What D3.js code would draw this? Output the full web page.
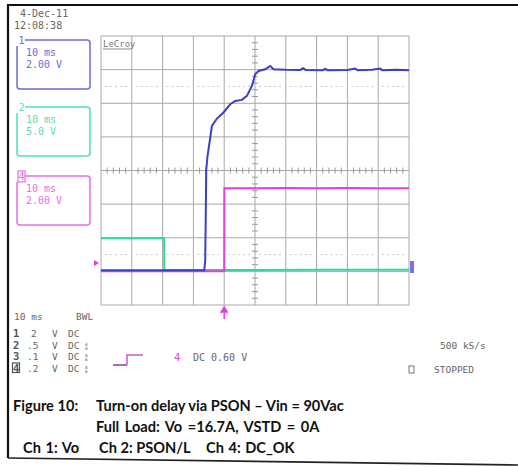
<!DOCTYPE html>
<html><head><meta charset="utf-8">
<script src="https://cdn.jsdelivr.net/npm/d3@7"></script>
<style>body{margin:0;background:#fff}svg{display:block}</style>
</head><body>
<svg id="c" width="518" height="467"></svg>
<script>
// ---- data (time in ms relative to trigger, volts) ----
const ch1Time = [-40,-6.49,-6.17,-6.0,-5.84,-5.42,-4.77,-3.99,-2.37,-0.23,1.95,3.57,5.75,7.37,8.99,10.06,11.14,13.31,14.94,16.0,20,24.7,25.6,26.5,32.0,32.8,33.6,40,42.5,43.3,48,50.6,51.4,56,60];
const ch1Volt = [0,0,0.54,3.04,5.95,6.80,7.60,8.59,9.03,9.39,9.88,10.08,10.14,10.38,10.97,11.67,11.86,11.96,12.16,11.96,11.93,11.92,12.02,11.92,11.9,11.99,11.9,11.92,12.01,11.9,11.93,12.0,11.9,11.93,11.9];
const ch2Time = [-40,-19.5,-19.45,-6.5,-6.0,10,30,45,60];
const ch2Volt = [4.76,4.76,0,0,0.04,0.04,0.08,0.1,0.1];
const ch4Time = [-40,0,0.05,10,20,30,40,50,60];
const ch4Volt = [-0.05,-0.05,4.88,4.88,4.9,4.88,4.9,4.88,4.88];
const chNames = ["1","2","4"];
const chTimeDiv = ["10 ms","10 ms","10 ms"];
const chVoltDiv = ["2.00 V","5.0 V","2.00 V"];
const chScale = [2,5,2];
const rowChan = ["1","2","3","4"];
const rowScale = ["2",".5",".1",".2"];
const captionLines = ["Turn-on delay via PSON \u2013 Vin = 90Vac","Full Load: Vo =16.7A, VSTD = 0A"];
const captionChans = ["Ch 1: Vo","Ch 2: PSON/L","Ch 4: DC_OK"];

const svg = d3.select("#c");
const mono = "DejaVu Sans Mono, monospace";
const gray = "#666";

// frame
svg.append("path").attr("d","M8,458 L8,5 L518,5").attr("fill","none").attr("stroke","#111").attr("stroke-width",2.2);
svg.append("line").attr("x1",8).attr("y1",458).attr("x2",518).attr("y2",465).attr("stroke","#222").attr("stroke-width",1.6);

// scales
const x = d3.scaleLinear().domain([-40,60]).range([101,409]);
const yDiv = d3.scaleLinear().domain([-4,4]).range([305,36]);
const ground = -2.97;
const yCh = s => v => yDiv(v/s + ground);

// grid
const g = svg.append("g");
d3.range(-40,61,10).forEach(t=>{
  g.append("line").attr("x1",x(t)).attr("x2",x(t)).attr("y1",yDiv(-4)).attr("y2",yDiv(4)).attr("stroke","#a8a8a8").attr("stroke-width",1);
});
d3.range(-4,5,1).forEach(d=>{
  g.append("line").attr("x1",x(-40)).attr("x2",x(60)).attr("y1",yDiv(d)).attr("y2",yDiv(d)).attr("stroke","#a8a8a8").attr("stroke-width",1);
});
// dotted quarter lines
[2.5,-2.5].forEach(d=>{
  d3.range(-40,60,10).forEach(t=>{
    g.append("line").attr("x1",x(t)+4).attr("x2",x(t+10)-4).attr("y1",yDiv(d)).attr("y2",yDiv(d))
      .attr("stroke","#c8c8c8").attr("stroke-width",1).attr("stroke-dasharray","2,3");
  });
});
// center ticks
d3.range(-40,60.01,2).forEach(t=>{
  if (t%10!==0) g.append("line").attr("x1",x(t)).attr("x2",x(t)).attr("y1",yDiv(0)-3).attr("y2",yDiv(0)+3).attr("stroke","#999");
});
d3.range(-4,4.01,0.2).forEach(d=>{
  if (Math.abs(d-Math.round(d))>0.01) g.append("line").attr("x1",x(10)-3).attr("x2",x(10)+3).attr("y1",yDiv(d)).attr("y2",yDiv(d)).attr("stroke","#999");
});
g.append("text").attr("x",103).attr("y",47).attr("font-family",mono).attr("font-size",9).attr("fill","#777").text("LeCroy");
g.append("line").attr("x1",103).attr("x2",131).attr("y1",49).attr("y2",49).attr("stroke","#888");

// traces
const mk = (times, volts, s) => d3.line().x((d,i)=>x(times[i])).y((d,i)=>yCh(s)(volts[i]));
svg.append("path").attr("d",mk(ch2Time,ch2Volt,5)(ch2Time)).attr("fill","none").attr("stroke","#2ed89c").attr("stroke-width",2);
svg.append("path").attr("d",mk(ch4Time,ch4Volt,2)(ch4Time)).attr("fill","none").attr("stroke","#e23ee0").attr("stroke-width",2);
svg.append("path").attr("d",mk(ch1Time,ch1Volt,2)(ch1Time)).attr("fill","none").attr("stroke","#3d3dcc").attr("stroke-width",2);

// trigger markers
svg.append("path").attr("d",`M94,${yDiv(-2.75)-3} L99,${yDiv(-2.75)} L94,${yDiv(-2.75)+3} Z`).attr("fill","#e040e0");
svg.append("path").attr("d",`M${x(0)},307 L${x(0)-3},312 L${x(0)+3},312 Z M${x(0)},311 L${x(0)},319`).attr("fill","#e040e0").attr("stroke","#e040e0").attr("stroke-width",1.5);
svg.append("rect").attr("x",410).attr("y",261).attr("width",4).attr("height",12).attr("fill","#8a6ae6");

// channel boxes
const boxCol = ["#6c6cd6","#4fe0bc","#ea6ee2"];
const boxTop = [40,107,176];
chNames.forEach((n,i)=>{
  const y0 = boxTop[i];
  svg.append("rect").attr("x",17).attr("y",y0).attr("width",73).attr("height",49).attr("rx",3)
    .attr("fill","none").attr("stroke",boxCol[i]).attr("stroke-width",1.5);
  svg.append("rect").attr("x",16).attr("y",y0-5).attr("width",9).attr("height",11).attr("fill","#fff");
  if (n==="4") {
    svg.append("rect").attr("x",18).attr("y",y0-5).attr("width",7).attr("height",11).attr("fill","none").attr("stroke",boxCol[i]).attr("stroke-width",1.2);
  }
  svg.append("text").attr("x",18.5).attr("y",y0+4).attr("font-family",mono).attr("font-size",10).attr("fill",boxCol[i]).text(n);
  svg.append("text").attr("x",26).attr("y",y0+16).attr("font-family",mono).attr("font-size",10).attr("fill",boxCol[i]).text(chTimeDiv[i]);
  svg.append("text").attr("x",26).attr("y",y0+28).attr("font-family",mono).attr("font-size",10).attr("fill",boxCol[i]).text(chVoltDiv[i]);
});

// timestamp
svg.append("text").attr("x",20).attr("y",17).attr("font-family",mono).attr("font-size",10).attr("fill",gray).text("4-Dec-11");
svg.append("text").attr("x",14).attr("y",29).attr("font-family",mono).attr("font-size",10).attr("fill",gray).text("12:08:38");

// bottom info
const t = (xx,yy,s,col,sz,w)=>svg.append("text").attr("x",xx).attr("y",yy).attr("font-family",mono).attr("font-size",sz||9.5).attr("fill",col||gray).attr("font-weight",w||"normal").text(s);
t(14,320,"10 ms"); t(76,320,"BWL");
rowChan.forEach((c,i)=>{
  const yy = 337 + i*11.5;
  t(13,yy,c,"#555",10.5,"bold");
  if (c==="4") svg.append("rect").attr("x",12.5).attr("y",yy-8.5).attr("width",7).attr("height",9.5).attr("fill","none").attr("stroke","#555").attr("stroke-width",1.2);
  t(rowScale[i].length>1?27:31,yy,rowScale[i]);
  t(52,yy,"V"); t(68,yy,"DC");
  if (i>0) { t(85,yy-3,"A",gray,4.5); t(85,yy+1,"A",gray,4.5); }
});
svg.append("path").attr("d","M113,365 L127,365").attr("stroke","#8a3c9e").attr("stroke-width",1.5).attr("fill","none");
svg.append("path").attr("d","M127,365 L127,355 L143,355").attr("stroke","#c858c8").attr("stroke-width",1.5).attr("fill","none");
t(174,361,"4","#e040e0",10.5);
t(193,361,"DC 0.60 V","#666",10);
t(440,349,"500 kS/s","#666",9.5);
svg.append("rect").attr("x",409).attr("y",366).attr("width",5).attr("height",7).attr("fill","none").attr("stroke","#777");
t(434,373,"STOPPED","#666",9.5);

// caption
const cap = (xx,yy,s,ws)=>svg.append("text").attr("x",xx).attr("y",yy).attr("font-family","Lato, Open Sans, sans-serif").attr("font-weight","bold").attr("font-size",14.6).attr("word-spacing",ws||0).attr("fill","#111").text(s);
cap(13,411,"Figure 10:");
cap(96,411,captionLines[0]);
cap(96,432,captionLines[1],2);
cap(23,453,captionChans[0],1);
cap(99,453,captionChans[1]);
cap(206,453,captionChans[2],1);
</script>
</body></html>
